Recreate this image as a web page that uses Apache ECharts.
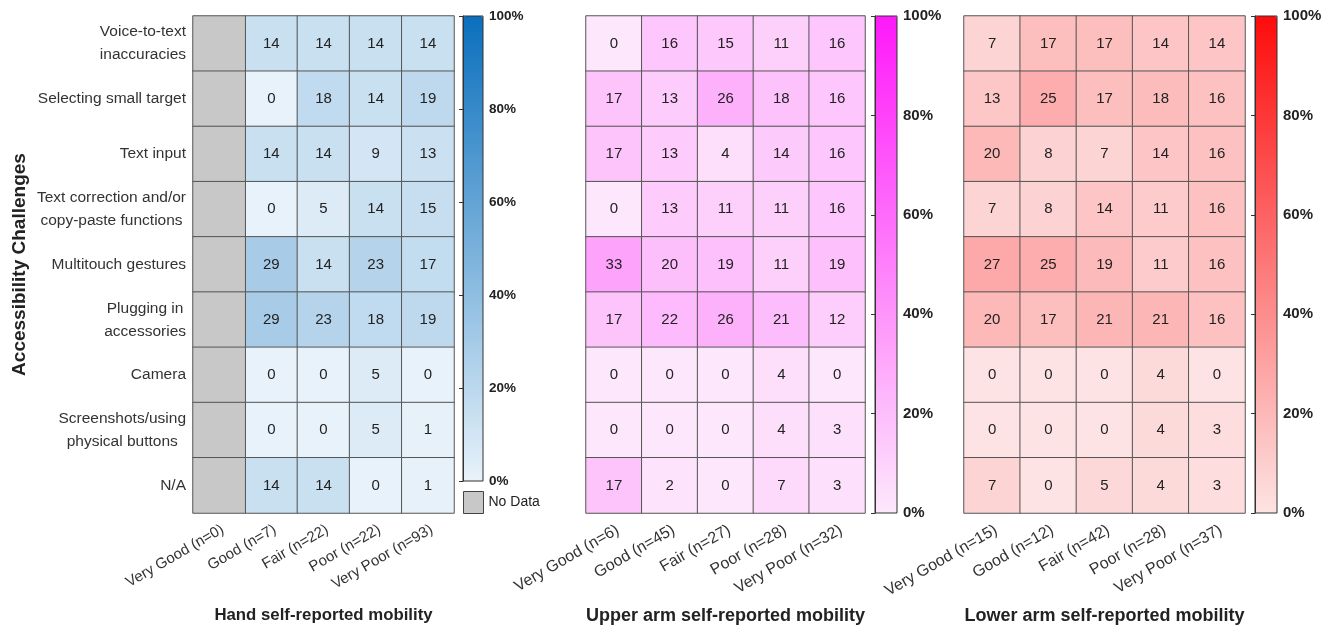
<!DOCTYPE html>
<html>
<head>
<meta charset="utf-8">
<script src="https://cdn.jsdelivr.net/npm/echarts@6/dist/echarts.min.js"></script>
<style>
  html, body { margin: 0; padding: 0; background: #fff; }
  #chart { width: 1329px; height: 630px; }
</style>
</head>
<body>
<div id="chart"></div>
<script>
// Accessibility challenges (% of respondents) by self-reported mobility level
const challenges = [
  'Voice-to-text\ninaccuracies',
  'Selecting small target',
  'Text input',
  'Text correction and/or\ncopy-paste functions',
  'Multitouch gestures',
  'Plugging in\naccessories',
  'Camera',
  'Screenshots/using\nphysical buttons',
  'N/A'
];

const handLevels = ['Very Good (n=0)', 'Good (n=7)', 'Fair (n=22)', 'Poor (n=22)', 'Very Poor (n=93)'];
const upperLevels = ['Very Good (n=6)', 'Good (n=45)', 'Fair (n=27)', 'Poor (n=28)', 'Very Poor (n=32)'];
const lowerLevels = ['Very Good (n=15)', 'Good (n=12)', 'Fair (n=42)', 'Poor (n=28)', 'Very Poor (n=37)'];

// Hand: "Very Good" has no respondents, so values start at "Good"
const handValues = [
  [14, 14, 14, 14],
  [0, 18, 14, 19],
  [14, 14, 9, 13],
  [0, 5, 14, 15],
  [29, 14, 23, 17],
  [29, 23, 18, 19],
  [0, 0, 5, 0],
  [0, 0, 5, 1],
  [14, 14, 0, 1]
];
const handNoDataColumns = [0];

const upperValues = [
  [0, 16, 15, 11, 16],
  [17, 13, 26, 18, 16],
  [17, 13, 4, 14, 16],
  [0, 13, 11, 11, 16],
  [33, 20, 19, 11, 19],
  [17, 22, 26, 21, 12],
  [0, 0, 0, 4, 0],
  [0, 0, 0, 4, 3],
  [17, 2, 0, 7, 3]
];

const lowerValues = [
  [7, 17, 17, 14, 14],
  [13, 25, 17, 18, 16],
  [20, 8, 7, 14, 16],
  [7, 8, 14, 11, 16],
  [27, 25, 19, 11, 16],
  [20, 17, 21, 21, 16],
  [0, 0, 0, 4, 0],
  [0, 0, 0, 4, 3],
  [7, 0, 5, 4, 3]
];

const panelTitles = ['Hand self-reported mobility', 'Upper arm self-reported mobility', 'Lower arm self-reported mobility'];

const FONT = 'Liberation Sans, Arial, sans-serif';

function toCells(matrix, colOffset) {
  const out = [];
  matrix.forEach((row, r) => row.forEach((v, c) => out.push([c + colOffset, r, v])));
  return out;
}

// grey placeholder cells for the level with no respondents
const noDataCells = [];
handNoDataColumns.forEach(c => challenges.forEach((_, r) => noDataCells.push([c, r, 0])));

// layout of the three heatmaps and their colour bars
const panels = [
  { left: 193, width: 261, levels: handLevels, cbLeft: 463, cbWidth: 20, cbTop: 16, cbHeight: 465,
    tickFont: 15, titleFont: 16.8, cbFont: 13.5 },
  { left: 586, width: 279, levels: upperLevels, cbLeft: 875, cbWidth: 22, cbTop: 16, cbHeight: 497,
    tickFont: 16, titleFont: 18, cbFont: 15 },
  { left: 964, width: 281, levels: lowerLevels, cbLeft: 1255, cbWidth: 22, cbTop: 16, cbHeight: 497,
    tickFont: 16, titleFont: 18, cbFont: 15 }
];
const plotTop = 16, plotHeight = 497;

const grids = [], xAxes = [], yAxes = [];
panels.forEach((p, i) => {
  grids.push({ left: p.left, top: plotTop, width: p.width, height: plotHeight, outerBoundsMode: 'none', containLabel: false });
  xAxes.push({
    type: 'category', gridIndex: i, data: p.levels,
    axisLine: { show: false }, axisTick: { show: false },
    axisLabel: { rotate: 30, margin: 9, verticalAlign: 'top', fontSize: p.tickFont, color: '#333', fontFamily: FONT, interval: 0 },
    name: panelTitles[i], nameLocation: 'middle', nameGap: 94,
    nameTextStyle: { fontSize: p.titleFont, fontWeight: 'bold', color: '#222', fontFamily: FONT }
  });
  yAxes.push({
    type: 'category', gridIndex: i, data: challenges, inverse: true,
    axisLine: { show: false }, axisTick: { show: false },
    axisLabel: i === 0 ? {
      margin: 7, color: '#333', fontSize: 15.5, fontFamily: FONT, lineHeight: 23,
      formatter: v => v.split('\n').map(s => '{c|' + s + '}').join('\n'),
      rich: { c: { align: 'center', fontSize: 15.5, color: '#333', fontFamily: FONT, lineHeight: 23 } }
    } : { show: false },
    name: i === 0 ? 'Accessibility Challenges' : '',
    nameLocation: 'middle', nameGap: 164, nameRotate: 90,
    nameTextStyle: { fontSize: 19, fontWeight: 'bold', color: '#222', fontFamily: FONT }
  });
});

// colour-bar tick axes
panels.forEach((p, i) => {
  const g = grids.length;
  grids.push({
    left: p.cbLeft, top: p.cbTop, width: p.cbWidth, height: p.cbHeight, outerBoundsMode: 'none', containLabel: false,
    show: true, z: 10, backgroundColor: 'transparent', borderColor: '#333', borderWidth: 1
  });
  xAxes.push({ type: 'value', gridIndex: g, show: false });
  yAxes.push({
    type: 'value', gridIndex: g, position: 'right', min: 0, max: 100, interval: 20, z: 10,
    axisLine: { show: true, lineStyle: { color: '#333' } },
    axisTick: { show: true, inside: true, length: 4, lineStyle: { color: '#333' } },
    splitLine: { show: false },
    axisLabel: { formatter: '{value}%', fontSize: p.cbFont, fontWeight: 'bold', color: '#222', margin: 6, fontFamily: FONT,
      verticalAlign: 'middle' }
  });
});

const scales = [
  ['#e8f2fa', '#0a6fbd'],
  ['#fde7fc', '#ff19fa'],
  ['#fde3e3', '#fd0c0c']
];

const visualMaps = panels.map((p, i) => ({
  type: 'continuous', min: 0, max: 100, calculable: false, seriesIndex: i,
  orient: 'vertical', left: p.cbLeft, top: p.cbTop, itemWidth: p.cbWidth, itemHeight: p.cbHeight,
  padding: 0, text: null, showLabel: false, hoverLink: false,
  inRange: { color: scales[i] }
}));

const cellLabel = { show: true, fontSize: 15, color: '#222', fontFamily: FONT };
const cellStyle = { borderColor: '#555', borderWidth: 1 };

const series = [
  { type: 'heatmap', xAxisIndex: 0, yAxisIndex: 0, data: toCells(handValues, 1), label: cellLabel, itemStyle: cellStyle, emphasis: { disabled: true } },
  { type: 'heatmap', xAxisIndex: 1, yAxisIndex: 1, data: toCells(upperValues, 0), label: cellLabel, itemStyle: cellStyle, emphasis: { disabled: true } },
  { type: 'heatmap', xAxisIndex: 2, yAxisIndex: 2, data: toCells(lowerValues, 0), label: cellLabel, itemStyle: cellStyle, emphasis: { disabled: true } },
  { type: 'heatmap', name: 'No Data', xAxisIndex: 0, yAxisIndex: 0, data: noDataCells,
    label: { show: false }, itemStyle: { color: '#c8c8c8', borderColor: '#555', borderWidth: 1 }, emphasis: { disabled: true } }
];

const chart = echarts.init(document.getElementById('chart'), null, { renderer: 'canvas' });
chart.setOption({
  animation: false,
  backgroundColor: '#fff',
  textStyle: { fontFamily: FONT },
  grid: grids,
  xAxis: xAxes,
  yAxis: yAxes,
  visualMap: visualMaps,
  legend: {
    data: ['No Data'], left: 463, top: 491, padding: 0, icon: 'rect',
    itemWidth: 20, itemHeight: 22, selectedMode: false,
    itemStyle: { borderColor: '#444', borderWidth: 1 },
    textStyle: { fontSize: 14, color: '#222', fontFamily: FONT }
  },
  series: series
});
</script>
</body>
</html>
